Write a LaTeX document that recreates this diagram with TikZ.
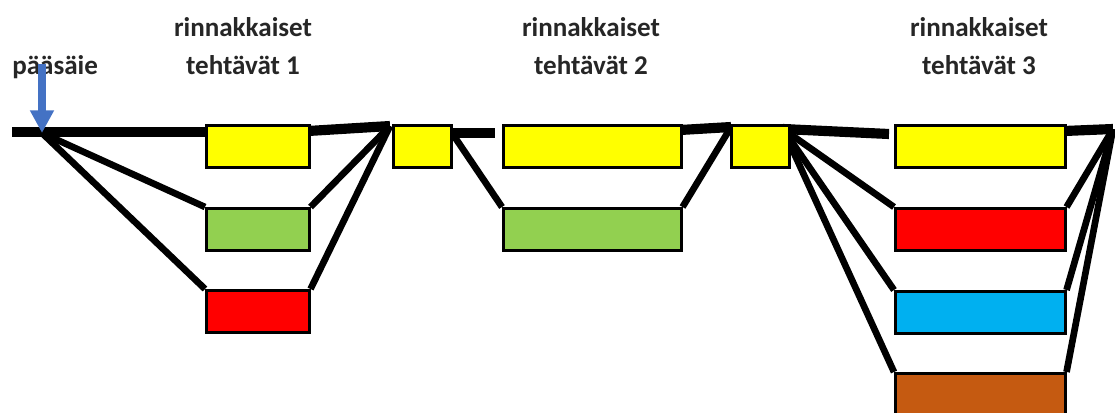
\documentclass[tikz,border=0pt]{standalone}
\usepackage{fontspec}
\setmainfont{Carlito}
\usetikzlibrary{arrows.meta,backgrounds}

\definecolor{taskyellow}{HTML}{FFFF00}
\definecolor{taskgreen}{HTML}{92D050}
\definecolor{taskred}{HTML}{FF0000}
\definecolor{taskblue}{HTML}{00B0F0}
\definecolor{taskbrown}{HTML}{C55A11}
\definecolor{arrowblue}{HTML}{4472C4}

\begin{document}
\begin{tikzpicture}[x=0.75pt,y=-0.75pt,
  task/.style={draw=black, line width=1.9pt, inner sep=0pt, anchor=north west,
               minimum height=31.5pt},
  wA/.style={minimum width=77.25pt},
  wS/.style={minimum width=43.5pt},
  wB/.style={minimum width=133.5pt},
  wC/.style={minimum width=127.5pt},
  mainline/.style={line width=7.6pt},
  conn/.style={line width=5pt},
  label/.style={font=\fontsize{20.3}{24}\selectfont\bfseries, text=black!85,
                inner sep=0pt, anchor=base}]
\clip (0,0) rectangle (1115,412);
\useasboundingbox (0,0) rectangle (1115,412);

% labels
\node[label, anchor=base west] (main) at (12,74) {pääsäie};
\node[label] (t1a) at (243,36) {rinnakkaiset};
\node[label] (t1b) at (243,74) {tehtävät 1};
\node[label] (t2a) at (591,36) {rinnakkaiset};
\node[label] (t2b) at (591,74) {tehtävät 2};
\node[label] (t3a) at (979,36) {rinnakkaiset};
\node[label] (t3b) at (979,74) {tehtävät 3};

% tasks
\node[task, wA, fill=taskyellow] (y1) at (205,124) {};
\node[task, wA, fill=taskgreen]  (g1) at (205,207) {};
\node[task, wA, fill=taskred]    (r1) at (205,289) {};
\node[task, wS, fill=taskyellow] (s1) at (392,124) {};
\node[task, wB, fill=taskyellow] (y2) at (502,124) {};
\node[task, wB, fill=taskgreen]  (g2) at (502,207) {};
\node[task, wS, fill=taskyellow] (s2) at (730,124) {};
\node[task, wC, fill=taskyellow] (y3) at (894,124) {};
\node[task, wC, fill=taskred]    (r3) at (894,207) {};
\node[task, wC, fill=taskblue]   (b3) at (894,290) {};
\node[task, wC, fill=taskbrown, minimum height=40pt] (o3) at (894,372) {};

% junctions of the main thread
\coordinate (start) at (12,132);
\coordinate (j0) at (42,133);
\coordinate (j1) at (390,126);
\coordinate (j1b) at (452,133);
\coordinate (e1) at (495,133);
\coordinate (j2a) at (680,130);
\coordinate (j2) at (731,127);
\coordinate (j2b) at (783,129);
\coordinate (e2) at (889,134);
\coordinate (j3a) at (1064,131);
\coordinate (j3) at (1113,129);

\begin{scope}[on background layer]
  % main thread
  \draw[mainline] (start) -- (205,132);
  \draw[mainline] (308,131) -- (j1);
  \draw[mainline] (j1b) -- (e1);
  \draw[mainline] (j2a) -- (j2);
  \draw[mainline] (j2b) -- (e2);
  \draw[mainline] (j3a) -- (j3);
  % fork / join 1
  \draw[conn] (j0) -- (g1.north west);
  \draw[conn] (j0) -- (r1.north west);
  \draw[conn] (j1) -- (g1.north east);
  \draw[conn] (j1) -- (r1.north east);
  % fork / join 2
  \draw[conn] (j1b) -- (g2.north west);
  \draw[conn] (g2.north east) -- (j2);
  % fork / join 3
  \draw[conn] (j2b) -- (r3.north west);
  \draw[conn] (j2b) -- (b3.north west);
  \draw[conn] (j2b) -- (o3.north west);
  \draw[conn] (j3) -- (r3.north east);
  \draw[conn] (j3) -- (b3.north east);
  \draw[conn] (j3) -- (o3.north east);
\end{scope}

% entry arrow of the main thread
\coordinate (a0) at (42,64);
\draw[arrowblue, line width=6.5pt,
      -{Triangle[width=17pt, length=17pt]}] (a0) -- (j0);
\end{tikzpicture}
\end{document}
